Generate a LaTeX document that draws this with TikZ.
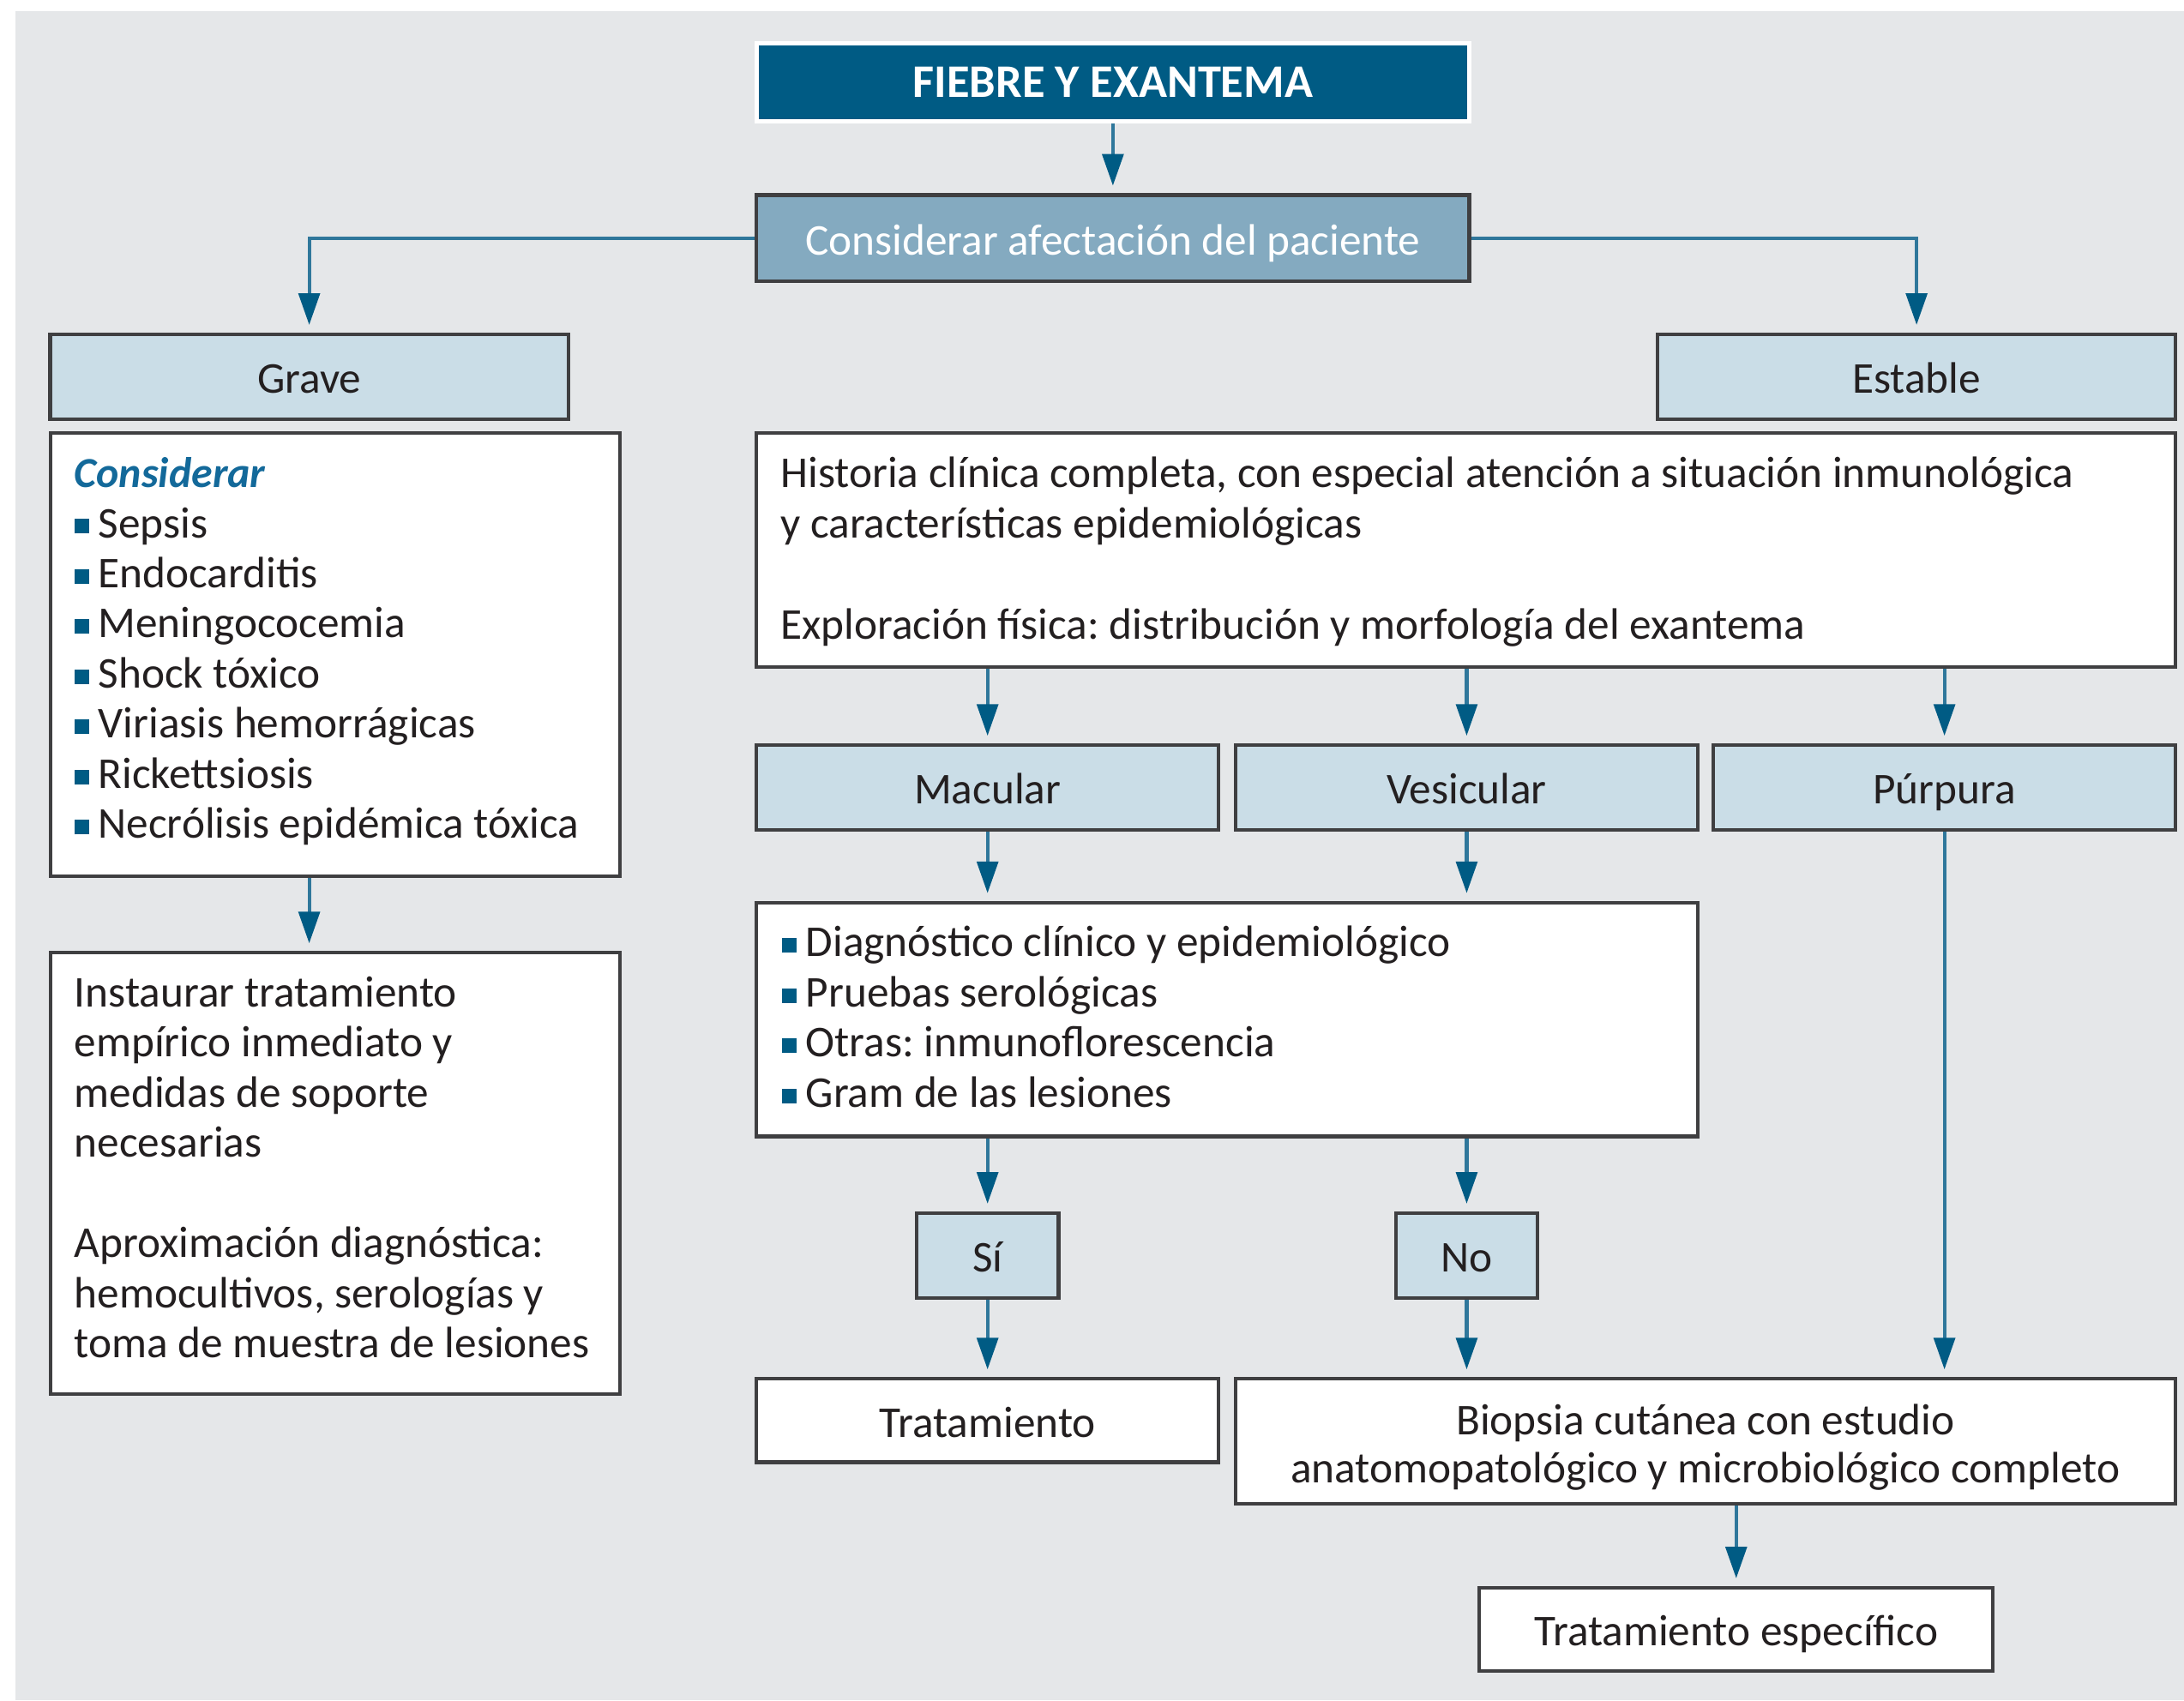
\documentclass[tikz,border=0pt]{standalone}
\usepackage{fontspec}
\setmainfont{Carlito}
\usetikzlibrary{arrows.meta}
\frenchspacing
\definecolor{bg}{HTML}{E5E7E9}
\definecolor{dkblue}{HTML}{005B84}
\definecolor{midblue}{HTML}{84AAC0}
\definecolor{ltblue}{HTML}{CADDE7}
\definecolor{shaft}{HTML}{2F779B}
\definecolor{border}{HTML}{3F3F41}
\definecolor{consblue}{HTML}{13699A}
\definecolor{ink}{HTML}{231F20}
\newcommand\fs{\fontsize{14.6}{16.6}\selectfont}
\newcommand\bul{\textcolor{dkblue}{\rule[1.3pt]{4.9pt}{4.9pt}}\hspace{3pt}}
\newcommand\bx[7]{%
  \pgfmathsetmacro\bw{(#4-#2)*0.46219}%
  \pgfmathsetmacro\bh{(#5-#3)*0.46219}%
  \node[#6, minimum width=\bw pt, minimum height=\bh pt] (#1) at ({(#2+#4)/2},{(#3+#5)/2}) {#7};}
\tikzset{
  boxbase/.style={draw=border, line width=1.2pt, inner sep=0pt, text=ink, font=\fs, align=center, text height=12.5pt, text depth=1.5pt},
  whitebox/.style={boxbase, fill=white},
  lightbox/.style={boxbase, fill=ltblue},
  midbox/.style={boxbase, fill=midblue, text=white},
  titlebox/.style={draw=white, line width=1.5pt, fill=dkblue, text=white, inner sep=0pt, font=\fontsize{15.5}{18}\selectfont\bfseries, text height=12pt, text depth=1.8pt},
  txt/.style={anchor=base west, inner sep=0pt, text=ink, font=\fs},
  ctxt/.style={anchor=base, inner sep=0pt, text=ink, font=\fs},
  arr/.style={draw=shaft, line width=1.2pt, -{Triangle[width=7pt,length=10.5pt,color=dkblue]}, shorten >=2.5pt},
}
\begin{document}
\begin{tikzpicture}[x=0.016244cm, y=-0.016244cm]
\useasboundingbox (0,0) rectangle (1568,1221);
\fill[bg] (11,8) rectangle (1568,1221);

\bx{fiebre}{543}{31}{1055}{87}{titlebox}{FIEBRE Y EXANTEMA}
\bx{consider}{543}{140}{1055}{202}{midbox}{Considerar afectación del paciente}
\bx{grave}{36}{240}{408}{301}{lightbox}{Grave}
\bx{estable}{1190}{240}{1562}{301}{lightbox}{Estable}
\bx{lista}{36}{311}{445}{629}{whitebox}{}
\bx{instaurar}{36}{684}{445}{1001}{whitebox}{}
\bx{historia}{543}{311}{1562}{479}{whitebox}{}
\bx{macular}{543}{535}{875}{596}{lightbox}{Macular}
\bx{vesicular}{887}{535}{1219}{596}{lightbox}{Vesicular}
\bx{purpura}{1230}{535}{1562}{596}{lightbox}{Púrpura}
\bx{diag}{543}{648}{1219}{816}{whitebox}{}
\bx{si}{658}{871}{760}{932}{lightbox}{Sí}
\bx{no}{1002}{871}{1104}{932}{lightbox}{No}
\bx{trat}{543}{990}{875}{1050}{whitebox}{Tratamiento}
\bx{biopsia}{887}{990}{1562}{1080}{whitebox}{}
\bx{tratesp}{1062}{1140}{1431}{1200}{whitebox}{Tratamiento específico}

% texts of the Grave column
\node[txt, font=\fontsize{14.2}{16.6}\selectfont\bfseries\itshape, text=consblue] (c0) at (53,350) {Considerar};
\foreach \i/\yy/\t in {1/386/Sepsis, 2/422/Endocarditis, 3/458/Meningococemia, 4/494/Shock tóxico, 5/530/Viriasis hemorrágicas, 6/566/Rickettsiosis, 7/602/Necrólisis epidémica tóxica}
  {\node[txt] (c\i) at (53,\yy) {\bul\t};}
\foreach \i/\yy/\t in {1/723/Instaurar tratamiento, 2/759/empírico inmediato y, 3/795/medidas de soporte, 4/831/necesarias, 5/903/Aproximación diagnóstica:, 6/939/{hemocultivos, serologías y}, 7/975/toma de muestra de lesiones}
  {\node[txt] (m\i) at (53,\yy) {\t};}
% texts of the Estable column
\node[txt] (h1) at (560,350) {Historia clínica completa, con especial atención a situación inmunológica};
\node[txt] (h2) at (560,386) {y características epidemiológicas};
\node[txt] (h3) at (560,459) {Exploración física: distribución y morfología del exantema};
\foreach \i/\yy/\t in {1/687/Diagnóstico clínico y epidemiológico, 2/723/Pruebas serológicas, 3/759/Otras: inmunoflorescencia, 4/795/Gram de las lesiones}
  {\node[txt] (d\i) at (561,\yy) {\bul\t};}
\node[ctxt] (b1) at (1224.5,1030) {Biopsia cutánea con estudio};
\node[ctxt] (b2) at (1224.5,1065) {anatomopatológico y microbiológico completo};

% connectors
\draw[arr] (fiebre) -- (consider);
\draw[arr] (consider.west) -| (grave.north);
\draw[arr] (consider.east) -| (estable.north);
\draw[arr] (grave.south |- lista.south) -- (grave.south |- instaurar.north);
\draw[arr] (macular.north |- historia.south) -- (macular.north);
\draw[arr] (vesicular.north |- historia.south) -- (vesicular.north);
\draw[arr] (purpura.north |- historia.south) -- (purpura.north);
\draw[arr] (macular.south) -- (macular.south |- diag.north);
\draw[arr] (vesicular.south) -- (vesicular.south |- diag.north);
\draw[arr] (si.north |- diag.south) -- (si.north);
\draw[arr] (no.north |- diag.south) -- (no.north);
\draw[arr] (si.south) -- (si.south |- trat.north);
\draw[arr] (no.south) -- (no.south |- biopsia.north);
\draw[arr] (purpura.south) -- (purpura.south |- biopsia.north);
\draw[arr] (tratesp.north |- biopsia.south) -- (tratesp.north);
\end{tikzpicture}
\end{document}
